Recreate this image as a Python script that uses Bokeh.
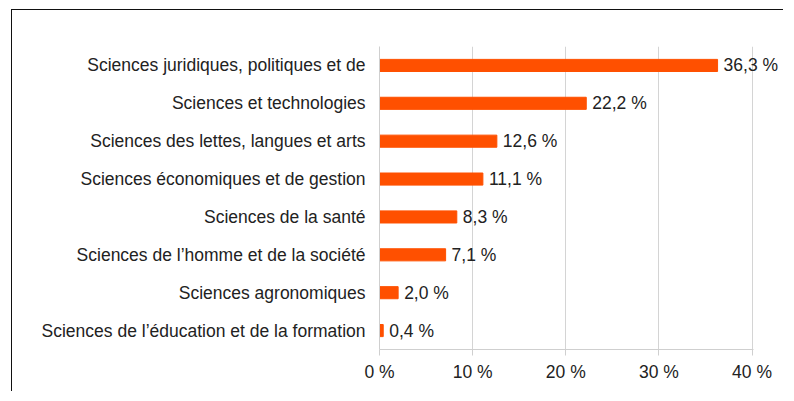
from bokeh.plotting import figure
from bokeh.models import Range1d, FactorRange, ColumnDataSource, FixedTicker, PrintfTickFormatter, LabelSet
from bokeh.core.properties import value
from bokeh.embed import file_html
from bokeh.resources import INLINE

categories = [
    "Sciences juridiques, politiques et de",
    "Sciences et technologies",
    "Sciences des lettes, langues et arts",
    "Sciences économiques et de gestion",
    "Sciences de la santé",
    "Sciences de l’homme et de la société",
    "Sciences agronomiques",
    "Sciences de l’éducation et de la formation",
]
values = [36.3, 22.2, 12.6, 11.1, 8.3, 7.1, 2.0, 0.4]
x_ticks = [0, 10, 20, 30, 40]

labels = [f"{v:.1f}".replace(".", ",") + " %" for v in values]
src = ColumnDataSource(dict(cat=categories, val=values, lab=labels))

FONT = "Liberation Sans"
FS = "17.5px"

p = figure(
    width=772, height=382,
    y_range=FactorRange(*reversed(categories), range_padding=0),
    x_range=Range1d(0, 42.95),
    output_backend="svg", toolbar_location=None,
    min_border_left=367, min_border_right=5, min_border_top=36, min_border_bottom=43,
    margin=(9, 0, 0, 11),
    styles={"border-top": "1px solid #111", "border-left": "1px solid #111"},
)
p.outline_line_color = None
p.background_fill_color = "white"
p.border_fill_color = "white"

p.hbar(y="cat", right="val", left=0, height=0.32, source=src, color="#FF5000")
p.add_layout(LabelSet(x="val", y="cat", text="lab", source=src, x_offset=6,
                      text_baseline="middle", text_align="left", text_font=value(FONT),
                      text_font_size=value(FS), text_color="#222222"))

p.xaxis.ticker = FixedTicker(ticks=x_ticks)
p.xaxis.bounds = (0, 40.2)
p.xaxis.formatter = PrintfTickFormatter(format="%d %%")
p.xaxis.axis_line_color = "#cfcfcf"
p.xaxis.major_tick_line_color = "#cfcfcf"
p.xaxis.major_tick_out = 6
p.xaxis.major_tick_in = 0
p.xaxis.minor_tick_line_color = None
p.xaxis.major_label_text_font = FONT
p.xaxis.major_label_text_font_size = FS
p.xaxis.major_label_text_color = "#222222"
p.xaxis.major_label_standoff = 6

p.yaxis.axis_line_color = "#cfcfcf"
p.yaxis.major_tick_line_color = None
p.yaxis.major_tick_out = 0
p.yaxis.major_tick_in = 0
p.yaxis.minor_tick_line_color = None
p.yaxis.major_label_text_font = FONT
p.yaxis.major_label_text_font_size = FS
p.yaxis.major_label_text_color = "#222222"
p.yaxis.major_label_standoff = 14

p.xgrid.grid_line_color = "#d4d4d4"
p.xgrid.ticker = FixedTicker(ticks=[10, 20, 30, 40])
p.ygrid.grid_line_color = None

open("out.html", "w").write(file_html(p, INLINE))
